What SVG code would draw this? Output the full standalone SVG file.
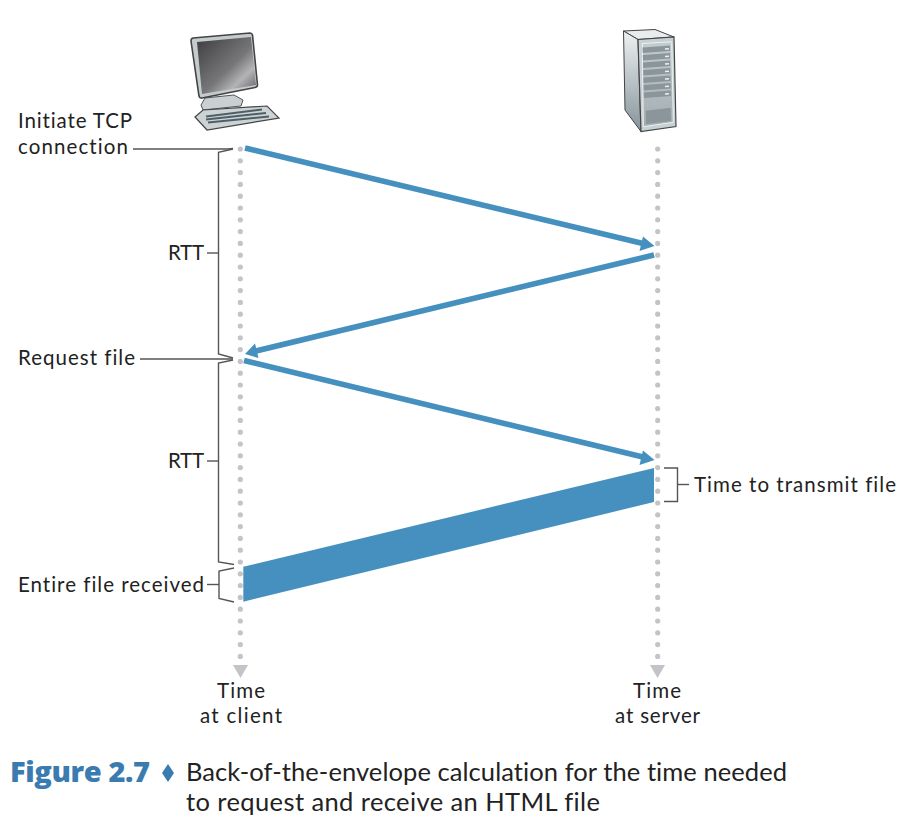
<svg xmlns="http://www.w3.org/2000/svg" width="914" height="826" viewBox="0 0 914 826">
<style>
text{font-variant-ligatures:none}
.t{font-family:"Lato","Open Sans","Liberation Sans",sans-serif;font-size:20.5px;fill:#222}
.c{font-family:"Lato","Open Sans","Liberation Sans",sans-serif;font-size:25.5px;fill:#222}
.f{font-family:"Open Sans","Liberation Sans",sans-serif;font-size:29px;font-weight:800;fill:#3a7bb0}
.l{fill:none;stroke:#555;stroke-width:1.4}
.d{fill:none;stroke:#c3c3c8;stroke-width:5.2;stroke-linecap:round;stroke-dasharray:0 11.8}
.a{fill:none;stroke:#4690bf;stroke-width:5.6}
.b{fill:#4690bf}
</style>
<defs>
<linearGradient id="scr" x1="0" y1="0" x2="1" y2="1"><stop offset="0" stop-color="#3d3d3f"/><stop offset=".55" stop-color="#77777a"/><stop offset=".75" stop-color="#b4b4b6"/><stop offset="1" stop-color="#59595b"/></linearGradient>
<linearGradient id="side" x1="0" y1="0" x2="0" y2="1"><stop offset="0" stop-color="#eef1f2"/><stop offset="1" stop-color="#86949a"/></linearGradient>
<linearGradient id="front" x1="0" y1="0" x2="0" y2="1"><stop offset="0" stop-color="#c3ccd0"/><stop offset="1" stop-color="#a4aeb2"/></linearGradient>
</defs>
<g id="client-computer">
<path d="M205 98L201 105L203 110L241 106L243 100L234 95Z" fill="#c9d0d2" stroke="#555" stroke-width="1"/>
<path d="M195 117L203 110L267 106L279 118L207 130Z" fill="#ccd3d5" stroke="#444" stroke-width="1.200"/>
<path d="M206 116.500L262 109.500M206 119.500L266 113M208 122.500L269 116.500" stroke="#4f5f66" stroke-width="2" fill="none"/>
<path d="M193 38L250 33Q252 33 252.500 35L257.500 85Q257.500 87 255 87.500L202 98Q199.500 98.500 199 96L191 41Q191 38.500 193 38Z" fill="#c5cbcd" stroke="#444" stroke-width="1.600"/>
<path d="M197 42L251 37L256 85L202 94Z" fill="url(#scr)"/>
</g>
<g id="server">
<path d="M623.500 31L655 29.500L674 37L638 39.500Z" fill="#e9eced" stroke="#444" stroke-width="1"/>
<path d="M623.500 31L638 39.500L641 131.500L625 110Z" fill="url(#side)" stroke="#444" stroke-width="1"/>
<path d="M638 39.500L674 37L676 126.500L641 131.500Z" fill="#c7d0d3" stroke="#444" stroke-width="1.200"/>
<path d="M642.300 43.500L671.700 41.800L673.300 122.300L643.300 126.700Z" fill="url(#front)" stroke="#eef1f2" stroke-width="1"/>
<g fill="#8b969b">
<path d="M642.500 47.500L670 45.500L670 51L642.800 53Z"/>
<path d="M642.800 55L670 53L670 58.500L643 60.500Z"/>
<path d="M643 62.500L670 60.500L670.200 66L643.200 68Z"/>
<path d="M643.200 70L670.200 68L670.400 73.500L643.400 75.500Z"/>
<path d="M643.400 77.500L670.400 75.500L670.600 81L643.600 83Z"/>
<path d="M643.600 85L670.600 83L670.800 88.500L643.800 90.500Z"/>
<path d="M643.800 92.500L670.800 90.500L671 96L644 98Z"/>
<path d="M645.700 110.700L670.700 107.700L671 121L646 124Z"/>
</g>
<path d="M665 49L669 48.700M665 56.500L669 56.200M665 64L669 63.700M665 71.500L669 71.200M665 79L669 78.700M665 86.500L669 86.200M665 94L669 93.700" stroke="#eef1f2" stroke-width="1.500" fill="none"/>
</g>
<g id="connectors">
<path class="d" d="M240.300 149V657"/>
<path class="d" d="M657.700 149V657"/>
<polygon points="233,665 248,665 240.500,678" fill="#c3c3c8"/>
<polygon points="650,665 665,665 657.500,678" fill="#c3c3c8"/>
<path class="a" d="M245 148L645 244"/>
<polygon class="b" points="654.500,246 643,236.500 639.500,251"/>
<path class="a" d="M654 255L254 351.500"/>
<polygon class="b" points="245,354 255,343.500 258.500,358"/>
<path class="a" d="M244 360.500L645 457.500"/>
<polygon class="b" points="654.500,460 643,450.500 639.500,465"/>
<polygon class="b" points="243.300,566.700 654,468 654,502 243.300,601.700"/>
<path class="l" d="M133 149H228L233 148.500"/>
<path class="l" d="M233 149L218.500 152.300V354L233 358"/>
<path class="l" d="M207 253H218"/>
<path class="l" d="M140 359H233"/>
<path class="l" d="M233 360L218.500 363V562L234 564.500"/>
<path class="l" d="M207 461H218"/>
<path class="l" d="M234 568L219 571V598.500L234 602"/>
<path class="l" d="M207 584.500H219"/>
<path class="l" d="M664 468H677.500V501.500H664"/>
<path class="l" d="M678 484.500H689"/>
</g>
<g id="labels">
<text class="t" x="18" y="128" textLength="114">Initiate TCP</text>
<text class="t" x="18" y="154" textLength="110">connection</text>
<text class="t" x="168" y="260" textLength="36">RTT</text>
<text class="t" x="18" y="365" textLength="117">Request file</text>
<text class="t" x="168" y="468" textLength="36">RTT</text>
<text class="t" x="18" y="592" textLength="186">Entire file received</text>
<text class="t" x="694" y="492" textLength="202">Time to transmit file</text>
<text class="t" x="217" y="698" textLength="48">Time</text>
<text class="t" x="200" y="723" textLength="82">at client</text>
<text class="t" x="633" y="698" textLength="48">Time</text>
<text class="t" x="615" y="723" textLength="85">at server</text>
</g>
<g id="caption">
<text class="f" x="10" y="782" textLength="140">Figure 2.7</text>
<polygon points="168,764 174,773 168,782 162,773" fill="#3a7bb0"/>
<text class="c" x="186" y="781" textLength="601">Back-of-the-envelope calculation for the time needed</text>
<text class="c" x="186" y="811" textLength="414">to request and receive an HTML file</text>
</g>
</svg>
